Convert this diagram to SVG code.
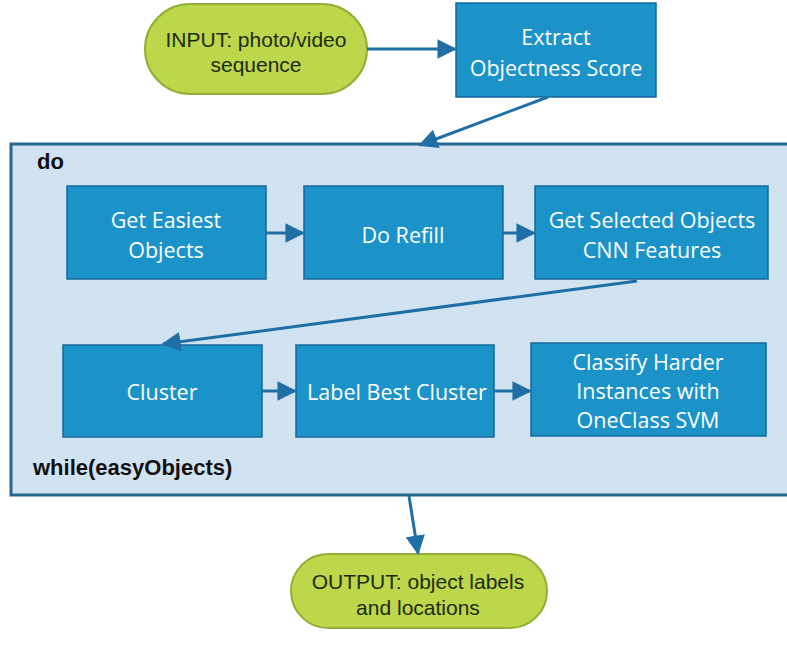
<svg xmlns="http://www.w3.org/2000/svg" width="787" height="646" viewBox="0 0 787 646">
<defs>
<marker id="ah" viewBox="0 0 10 10" refX="9" refY="5" markerWidth="6.5" markerHeight="6.5" markerUnits="strokeWidth" orient="auto">
<path d="M0,0 L10,5 L0,10 Z" fill="#1f6fa6"/>
</marker>
<style>
.pill{fill:#bcd74a;stroke:#8fb035;stroke-width:2}
.pt{font-family:"Liberation Sans",Arial,sans-serif;font-size:21px;fill:#1e2a10;text-anchor:middle}
.box{fill:#1b93c9;stroke:#17689a;stroke-width:1.5}
.bt{font-family:"Open Sans","Noto Sans",sans-serif;font-size:21.5px;fill:#ffffff;text-anchor:middle}
.cont{fill:#d1e2f1;stroke:#24668f;stroke-width:3}
.lbl{font-family:"Liberation Sans",Arial,sans-serif;font-size:22px;font-weight:bold;fill:#111}
.c{stroke:#1f6fa6;stroke-width:3;fill:none;marker-end:url(#ah)}
</style>
</defs>
<rect width="787" height="646" fill="#ffffff"/>
<g id="container">
<rect class="cont" x="11" y="144" width="790" height="351"/>
<text class="lbl" x="37" y="169">do</text>
<text class="lbl" x="33" y="475">while(easyObjects)</text>
</g>
<g id="input">
<rect class="pill" x="145" y="4" width="222" height="90" rx="45"/>
<text class="pt" x="256" y="47">INPUT: photo/video</text>
<text class="pt" x="256" y="72">sequence</text>
</g>
<g id="extract">
<rect class="box" x="456" y="3" width="200" height="94"/>
<text class="bt" x="556" y="45">Extract</text>
<text class="bt" x="556" y="76">Objectness Score</text>
</g>
<g id="easiest">
<rect class="box" x="67" y="186" width="199" height="93"/>
<text class="bt" x="166" y="228">Get Easiest</text>
<text class="bt" x="166" y="258">Objects</text>
</g>
<g id="refill">
<rect class="box" x="304" y="186" width="199" height="93"/>
<text class="bt" x="403" y="243">Do Refill</text>
</g>
<g id="cnn">
<rect class="box" x="535" y="186" width="233" height="93"/>
<text class="bt" x="652" y="228">Get Selected Objects</text>
<text class="bt" x="652" y="258">CNN Features</text>
</g>
<g id="cluster">
<rect class="box" x="63" y="345" width="199" height="92"/>
<text class="bt" x="162" y="400">Cluster</text>
</g>
<g id="labelbest">
<rect class="box" x="296" y="345" width="198" height="92"/>
<text class="bt" x="397" y="400">Label Best Cluster</text>
</g>
<g id="classify">
<rect class="box" x="531" y="343" width="235" height="93"/>
<text class="bt" x="648" y="370">Classify Harder</text>
<text class="bt" x="648" y="399">Instances with</text>
<text class="bt" x="648" y="428">OneClass SVM</text>
</g>
<g id="output">
<rect class="pill" x="291" y="554" width="256" height="74" rx="37"/>
<text class="pt" x="418" y="589">OUTPUT: object labels</text>
<text class="pt" x="418" y="615">and locations</text>
</g>
<g id="connectors">
<line class="c" x1="367" y1="49" x2="455" y2="49"/>
<line class="c" x1="548" y1="97" x2="420" y2="145"/>
<line class="c" x1="266" y1="233" x2="303" y2="233"/>
<line class="c" x1="503" y1="233" x2="534" y2="233"/>
<line class="c" x1="637" y1="281" x2="163" y2="344"/>
<line class="c" x1="262" y1="391" x2="295" y2="391"/>
<line class="c" x1="494" y1="391" x2="530" y2="391"/>
<line class="c" x1="409" y1="496" x2="418" y2="553"/>
</g>
</svg>
